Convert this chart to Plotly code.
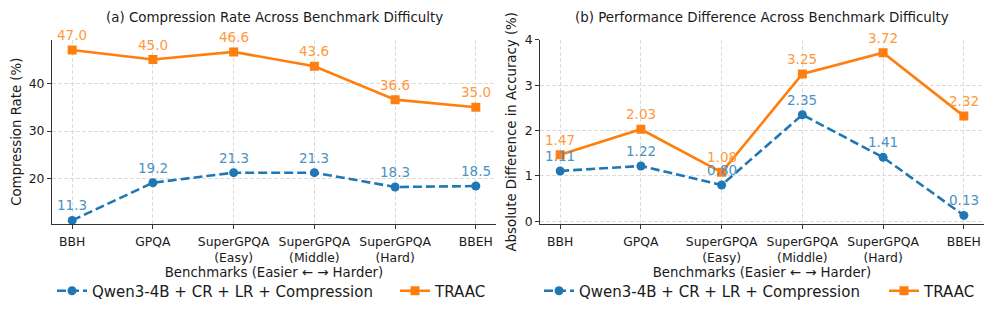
import plotly.graph_objects as go

categories = ["BBH", "GPQA", "SuperGPQA<br>(Easy)", "SuperGPQA<br>(Middle)", "SuperGPQA<br>(Hard)", "BBEH"]
qwen_cr = [11.3, 19.2, 21.3, 21.3, 18.3, 18.5]
traac_cr = [47.0, 45.0, 46.6, 43.6, 36.6, 35.0]
qwen_diff = [1.11, 1.22, 0.80, 2.35, 1.41, 0.13]
traac_diff = [1.47, 2.03, 1.08, 3.25, 3.72, 2.32]

cr_ticks = [20, 30, 40]
diff_ticks = [0, 1, 2, 3, 4]

BLUE = "#1f77b4"
ORANGE = "#ff7f0e"
BLUE_T = "#4c92c3"
ORANGE_T = "#ff993e"
FONT = "DejaVu Sans"
TXT = "#1a1a1a"

# page has default 8px body margin
OFF = 8
W, H = 996 - OFF, 314 - OFF

def px(xp):
    return (xp - OFF) / W

def py(yp):
    return 1 - (yp - OFF) / H

fig = go.Figure()

def add_series(xa, ya, y, name, color, symbol, dash, size, legend, fmt, tcolor):
    fig.add_trace(go.Scatter(
        x=categories, y=y, name=name, mode="lines+markers",
        xaxis=xa, yaxis=ya, legend=legend,
        line=dict(color=color, width=2.6, dash=dash),
        marker=dict(color=color, symbol=symbol, size=size),
    ))
    for c, v in zip(categories, y):
        fig.add_annotation(x=c, y=v, xref=xa, yref=ya, text=fmt.format(v),
                           showarrow=False, yanchor="bottom", yshift=5,
                           font=dict(family=FONT, size=13.5, color=tcolor))

add_series("x", "y", qwen_cr, "Qwen3-4B + CR + LR + Compression", BLUE, "circle", "9px,4px", 9, "legend", "{:.1f}", BLUE_T)
add_series("x", "y", traac_cr, "TRAAC", ORANGE, "square", "solid", 9, "legend2", "{:.1f}", ORANGE_T)
add_series("x2", "y2", qwen_diff, "Qwen3-4B + CR + LR + Compression", BLUE, "circle", "9px,4px", 9, "legend3", "{:.2f}", BLUE_T)
add_series("x2", "y2", traac_diff, "TRAAC", ORANGE, "square", "solid", 9, "legend4", "{:.2f}", ORANGE_T)

ydom = [py(224), py(39.5)]
dom1 = [px(52), px(496)]
dom2 = [px(540), px(984)]

axis_common = dict(
    showline=True, linecolor="#333333", linewidth=1,
    ticks="outside", ticklen=4, tickcolor="#333333", tickwidth=1,
    showgrid=True, gridcolor="#dcdcdc", griddash="4px,2px", gridwidth=1,
    zeroline=False, tickfont=dict(family=FONT, size=12.4, color=TXT),
    mirror=False,
)

xt = dict(text="Benchmarks (Easier \u2190 \u2192 Harder)", font=dict(family=FONT, size=13.3, color=TXT), standoff=1)

def leg(xp):
    return dict(orientation="h", x=px(xp), y=py(291), xanchor="left", yanchor="middle",
                font=dict(family=FONT, size=15, color=TXT), itemwidth=30,
                bgcolor="rgba(0,0,0,0)", borderwidth=0)

fig.update_layout(
    width=W, height=H,
    margin=dict(l=0, r=0, t=0, b=0, autoexpand=False),
    paper_bgcolor="white", plot_bgcolor="white",
    font=dict(family=FONT, color=TXT),
    xaxis=dict(domain=dom1, anchor="y", type="category", range=[-0.25, 5.25], title=xt,
               ticklabelstandoff=2, **axis_common),
    yaxis=dict(domain=ydom, anchor="x", range=[10.55, 49.2], tickvals=cr_ticks,
               title=dict(text="Compression Rate (%)", font=dict(family=FONT, size=13.3, color=TXT), standoff=4),
               **axis_common),
    xaxis2=dict(domain=dom2, anchor="y2", type="category", range=[-0.25, 5.25], title=xt,
                ticklabelstandoff=2, **axis_common),
    yaxis2=dict(domain=ydom, anchor="x2", range=[-0.06, 4.01], tickvals=diff_ticks,
                title=dict(text="Absolute Difference in Accuracy (%)", font=dict(family=FONT, size=13.3, color=TXT), standoff=4),
                **axis_common),
    legend=leg(52), legend2=leg(395), legend3=leg(539), legend4=leg(884),
    showlegend=True,
)

fig.add_annotation(text="(a) Compression Rate Across Benchmark Difficulty", xref="paper", yref="paper",
                   x=(dom1[0] + dom1[1]) / 2, y=py(17), showarrow=False, xanchor="center", yanchor="middle",
                   font=dict(family=FONT, size=13.4, color=TXT))
fig.add_annotation(text="(b) Performance Difference Across Benchmark Difficulty", xref="paper", yref="paper",
                   x=(dom2[0] + dom2[1]) / 2, y=py(17), showarrow=False, xanchor="center", yanchor="middle",
                   font=dict(family=FONT, size=13.4, color=TXT))

fig.write_html("out.html")
